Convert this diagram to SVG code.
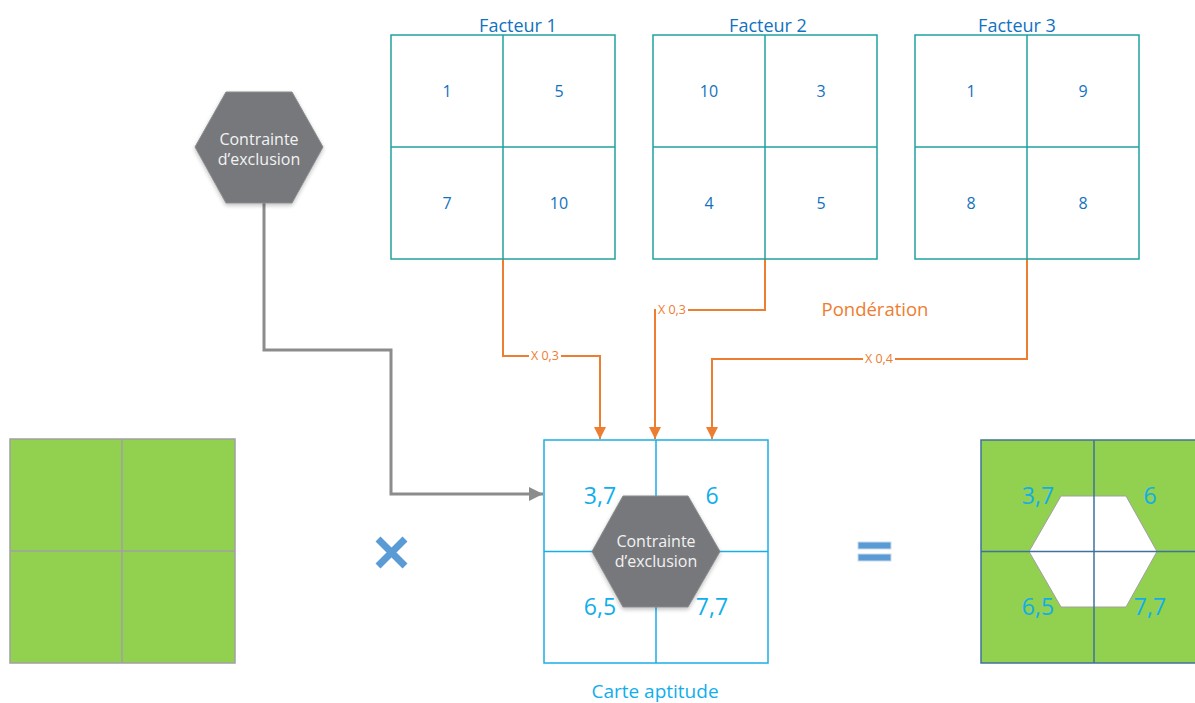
<svg xmlns="http://www.w3.org/2000/svg" width="1195" height="703" viewBox="0 0 1195 703">
<style>
text{font-family:"Open Sans","Liberation Sans",sans-serif;text-anchor:middle}
.grid{fill:#fff;stroke:#1FA29E;stroke-width:1.5}
.gv{fill:#1272C0;font-size:16px}
.title{fill:#1272C0;font-size:18px}
.carte{fill:none;stroke:#1AAEE8;stroke-width:1.5}
.cv{fill:#10AEEC;font-size:23px}
.hex{fill:#77787B;stroke:#8a8b8e;stroke-width:1}
.ht{fill:#F2F2F2;font-size:16px}
.or{fill:none;stroke:#ED7D31;stroke-width:2}
.ol{fill:#ED7D31;font-size:12.5px}
.gr{fill:none;stroke:#8C8C8C;stroke-width:3}
</style>
<defs>
<marker id="ao" markerWidth="12" markerHeight="12" refX="12" refY="6" orient="auto" markerUnits="userSpaceOnUse"><path d="M0,0 L12,6 L0,12 Z" fill="#ED7D31"/></marker>
<marker id="ag" markerWidth="14" markerHeight="14" refX="14" refY="7" orient="auto" markerUnits="userSpaceOnUse"><path d="M0,0 L14,7 L0,14 Z" fill="#8C8C8C"/></marker>
<filter id="sh" x="-20%" y="-20%" width="140%" height="140%"><feGaussianBlur in="SourceAlpha" stdDeviation="2"/><feOffset dx="0" dy="2"/><feComponentTransfer><feFuncA type="linear" slope="0.25"/></feComponentTransfer><feMerge><feMergeNode/><feMergeNode in="SourceGraphic"/></feMerge></filter>
</defs>

<g id="connectors">
<path class="gr" d="M264,203 V350 H391 V494 H543" marker-end="url(#ag)"/>
<path class="or" d="M503,259 V356 H600 V439" marker-end="url(#ao)"/>
<path class="or" d="M765,259 V310 H655 V439" marker-end="url(#ao)"/>
<path class="or" d="M1027,259 V359 H712 V439" marker-end="url(#ao)"/>
<rect x="529" y="349" width="32" height="14" fill="#fff"/>
<text class="ol" x="545" y="360">X 0,3</text>
<rect x="656" y="303" width="32" height="14" fill="#fff"/>
<text class="ol" x="672" y="314">X 0,3</text>
<rect x="863" y="352" width="32" height="14" fill="#fff"/>
<text class="ol" x="879" y="363">X 0,4</text>
</g>

<g id="facteur1">
<text class="title" x="518" y="32">Facteur 1</text>
<rect class="grid" x="391" y="35" width="224" height="224"/>
<path class="grid" d="M503,35 V259 M391,147 H615"/>
<text class="gv" x="447" y="97">1</text><text class="gv" x="559" y="97">5</text>
<text class="gv" x="447" y="209">7</text><text class="gv" x="559" y="209">10</text>
</g>
<g id="facteur2">
<text class="title" x="768" y="32">Facteur 2</text>
<rect class="grid" x="653" y="35" width="224" height="224"/>
<path class="grid" d="M765,35 V259 M653,147 H877"/>
<text class="gv" x="709" y="97">10</text><text class="gv" x="821" y="97">3</text>
<text class="gv" x="709" y="209">4</text><text class="gv" x="821" y="209">5</text>
</g>
<g id="facteur3">
<text class="title" x="1017" y="32">Facteur 3</text>
<rect class="grid" x="915" y="35" width="224" height="224"/>
<path class="grid" d="M1027,35 V259 M915,147 H1139"/>
<text class="gv" x="971" y="97">1</text><text class="gv" x="1083" y="97">9</text>
<text class="gv" x="971" y="209">8</text><text class="gv" x="1083" y="209">8</text>
</g>

<g id="ponderation">
<text x="875" y="316" fill="#ED7D31" font-size="18.5px">Pondération</text>
</g>

<g id="contrainte">
<polygon class="hex" filter="url(#sh)" points="195,147 226,92 292,92 323,147 292,203 226,203"/>
<text class="ht" x="259" y="145">Contrainte</text>
<text class="ht" x="259" y="165">d’exclusion</text>
</g>

<g id="vert">
<rect x="10" y="439" width="225" height="224" fill="#92D050" stroke="#A0A0A0" stroke-width="1.5"/>
<path d="M122,439 V663 M10,551 H235" stroke="#A0A0A0" stroke-width="1.5"/>
</g>

<g id="fois">
<path d="M378,539 L405,566 M405,539 L378,566" stroke="#5B9BD5" stroke-width="7"/>
</g>

<g id="carte">
<rect class="carte" x="544" y="440" width="224" height="223" fill="#fff"/>
<path class="carte" d="M656,440 V663 M544,551.5 H768"/>
<polygon class="hex" filter="url(#sh)" points="592,551.5 623,496 688,496 720,551.5 688,607 623,607"/>
<text class="ht" x="656" y="547">Contrainte</text>
<text class="ht" x="656" y="567">d’exclusion</text>
<text class="cv" x="600" y="504">3,7</text>
<text class="cv" x="712" y="504">6</text>
<text class="cv" x="600" y="615">6,5</text>
<text class="cv" x="712" y="615">7,7</text>
<text x="655" y="698" fill="#10AEEC" font-size="19px">Carte aptitude</text>
</g>

<g id="egal">
<rect x="858" y="542" width="33" height="7" fill="#5B9BD5" stroke="#c9d9ea" stroke-width="1"/>
<rect x="858" y="554" width="33" height="7" fill="#5B9BD5" stroke="#c9d9ea" stroke-width="1"/>
</g>

<g id="resultat">
<rect x="981" y="440" width="226" height="223" fill="#92D050" stroke="#41719C" stroke-width="1.5"/>
<polygon points="1029,551.5 1061,496 1126,496 1157,551.5 1126,607 1061,607" fill="#fff" stroke="#A0A0A0" stroke-width="1"/>
<path d="M1094,440 V663 M981,551.5 H1207" stroke="#41719C" stroke-width="1.5"/>
<text class="cv" x="1038" y="504">3,7</text>
<text class="cv" x="1150" y="504">6</text>
<text class="cv" x="1038" y="615">6,5</text>
<text class="cv" x="1150" y="615">7,7</text>
</g>
</svg>
